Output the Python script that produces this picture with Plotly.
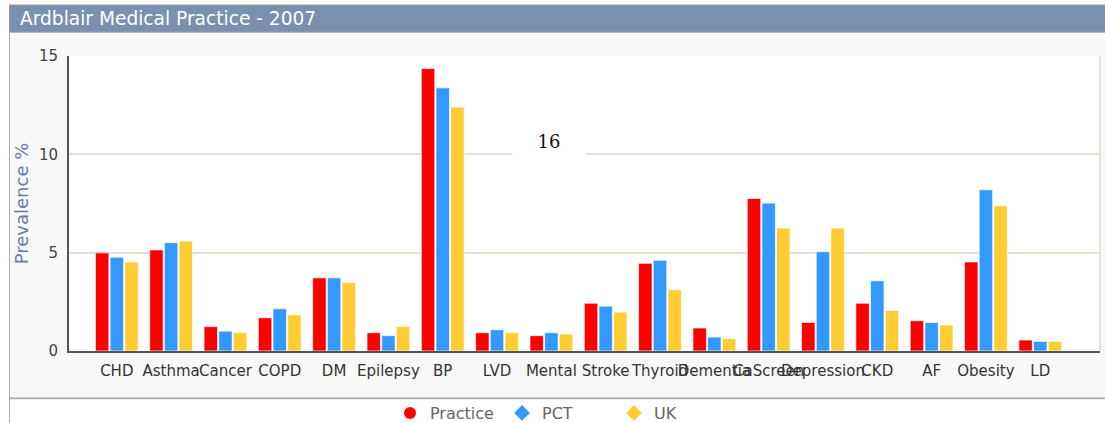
import plotly.graph_objects as go

# QOF disease register prevalence, 2007
categories = ["CHD", "Asthma", "Cancer", "COPD", "DM", "Epilepsy", "BP", "LVD",
              "Mental", "Stroke", "Thyroid", "Dementia", "CaScreen", "Depression",
              "CKD", "AF", "Obesity", "LD"]
practice = [4.99, 5.14, 1.24, 1.69, 3.72, 0.93, 14.36, 0.93, 0.78, 2.43, 4.46,
            1.17, 7.76, 1.45, 2.43, 1.54, 4.53, 0.56]
pct = [4.77, 5.51, 1.01, 2.15, 3.72, 0.78, 13.38, 1.08, 0.93, 2.28, 4.61,
       0.71, 7.52, 5.05, 3.57, 1.45, 8.20, 0.49]
uk = [4.53, 5.59, 0.93, 1.84, 3.48, 1.24, 12.40, 0.93, 0.86, 1.98, 3.11,
      0.63, 6.25, 6.25, 2.06, 1.32, 7.38, 0.49]
series_names = ["Practice", "PCT", "UK"]
y_ticks = [0, 5, 10, 15]

colors = ["#ff0000", "#3399ff", "#ffcc33"]
legend_symbols = ["circle", "diamond", "diamond"]

W, H = 1105, 423
L, R, T, B = 69, 5, 56, 72
pw, ph = W - L - R, H - T - B


def px_x(x):
    return (x - L) / pw


def px_y(y):
    return (H - B - y) / ph


fig = go.Figure()
xs = list(range(len(categories)))
for name, vals, col in zip(series_names, [practice, pct, uk], colors):
    fig.add_trace(go.Bar(
        x=xs, y=vals, name=name,
        marker=dict(color=col, line=dict(color="rgba(255,255,255,0.7)", width=1)),
        showlegend=False, hoverinfo="y"))
# legend markers
for name, col, sym in zip(series_names, colors, legend_symbols):
    fig.add_trace(go.Scatter(
        x=[None], y=[None], mode="markers", name=name,
        marker=dict(color=col, symbol=sym, size=12)))

shapes = [
    # outer panel
    dict(type="rect", xref="paper", yref="paper", x0=px_x(9.5), x1=px_x(1106), y0=px_y(398),
         y1=px_y(32), fillcolor="#f8f8f8", line=dict(color="#b0b0b0", width=1), layer="below"),
    dict(type="line", xref="paper", yref="paper", x0=px_x(9.5), x1=px_x(9.5), y0=px_y(424),
         y1=px_y(398), line=dict(color="#b0b0b0", width=1), layer="below"),
    dict(type="line", xref="paper", yref="paper", x0=px_x(9.5), x1=px_x(1106), y0=px_y(398.5),
         y1=px_y(398.5), line=dict(color="#aaaaaa", width=1.5), layer="below"),
    # title bar
    dict(type="rect", xref="paper", yref="paper", x0=px_x(9.5), x1=px_x(1106), y0=px_y(32),
         y1=px_y(5), fillcolor="#7a90b0", line=dict(color="#9a9a9a", width=1), layer="below"),
    # plot area
    dict(type="rect", xref="paper", yref="paper", x0=0, x1=1, y0=0, y1=1,
         fillcolor="#ffffff", line=dict(width=0), layer="below"),
    dict(type="line", xref="paper", yref="paper", x0=1, x1=1, y0=0, y1=1,
         line=dict(color="#e2e2d2", width=2), layer="below"),
]

annotations = [
    dict(text="Ardblair Medical Practice - 2007", xref="paper", yref="paper",
         x=px_x(18), y=px_y(19), xanchor="left", yanchor="middle", showarrow=False,
         font=dict(family="DejaVu Sans", size=18.6, color="#ffffff")),
    dict(text="16", xref="paper", yref="paper", x=px_x(549), y=px_y(141),
         xanchor="center", yanchor="middle", showarrow=False, bgcolor="#ffffff",
         width=70, height=30, font=dict(family="DejaVu Serif", size=18, color="#111111")),
    dict(text="g", xref="paper", yref="paper", x=px_x(66), y=px_y(-10),
         xanchor="center", yanchor="middle", showarrow=False,
         font=dict(family="DejaVu Sans", size=18, color="#000000")),
]

fig.update_layout(
    width=W, height=H,
    margin=dict(l=L, r=R, t=T, b=B, pad=0, autoexpand=False),
    paper_bgcolor="#ffffff", plot_bgcolor="#ffffff",
    barmode="group", bargap=0.19, bargroupgap=0.08,
    font=dict(family="DejaVu Sans", color="#444444"),
    shapes=shapes, annotations=annotations,
    showlegend=True,
    legend=dict(orientation="h", x=px_x(390), y=px_y(413), xanchor="left", yanchor="middle",
                bgcolor="rgba(0,0,0,0)", font=dict(family="DejaVu Sans", size=16, color="#666666"),
                entrywidth=67, entrywidthmode="pixels", itemwidth=30),
)
fig.update_xaxes(
    range=[-0.88, 18.1], tickmode="array", tickvals=xs, ticktext=categories, tickangle=0,
    showgrid=False, zeroline=False, showline=True, linecolor="#555555", linewidth=2,
    ticks="", ticklabelstandoff=5,
    tickfont=dict(family="DejaVu Sans", size=15, color="#333333"), fixedrange=True)
fig.update_yaxes(
    range=[0, 15], tickvals=y_ticks, showgrid=True, gridcolor="#e2e2d2", gridwidth=2,
    zeroline=False, showline=True, linecolor="#555555", linewidth=2, ticks="",
    ticklabelstandoff=6,
    tickfont=dict(family="DejaVu Sans", size=15, color="#444444"),
    title=dict(text="Prevalence %", font=dict(family="DejaVu Sans", size=18, color="#6a7aa6"),
               standoff=6), fixedrange=True)

fig.write_html("out.html")
